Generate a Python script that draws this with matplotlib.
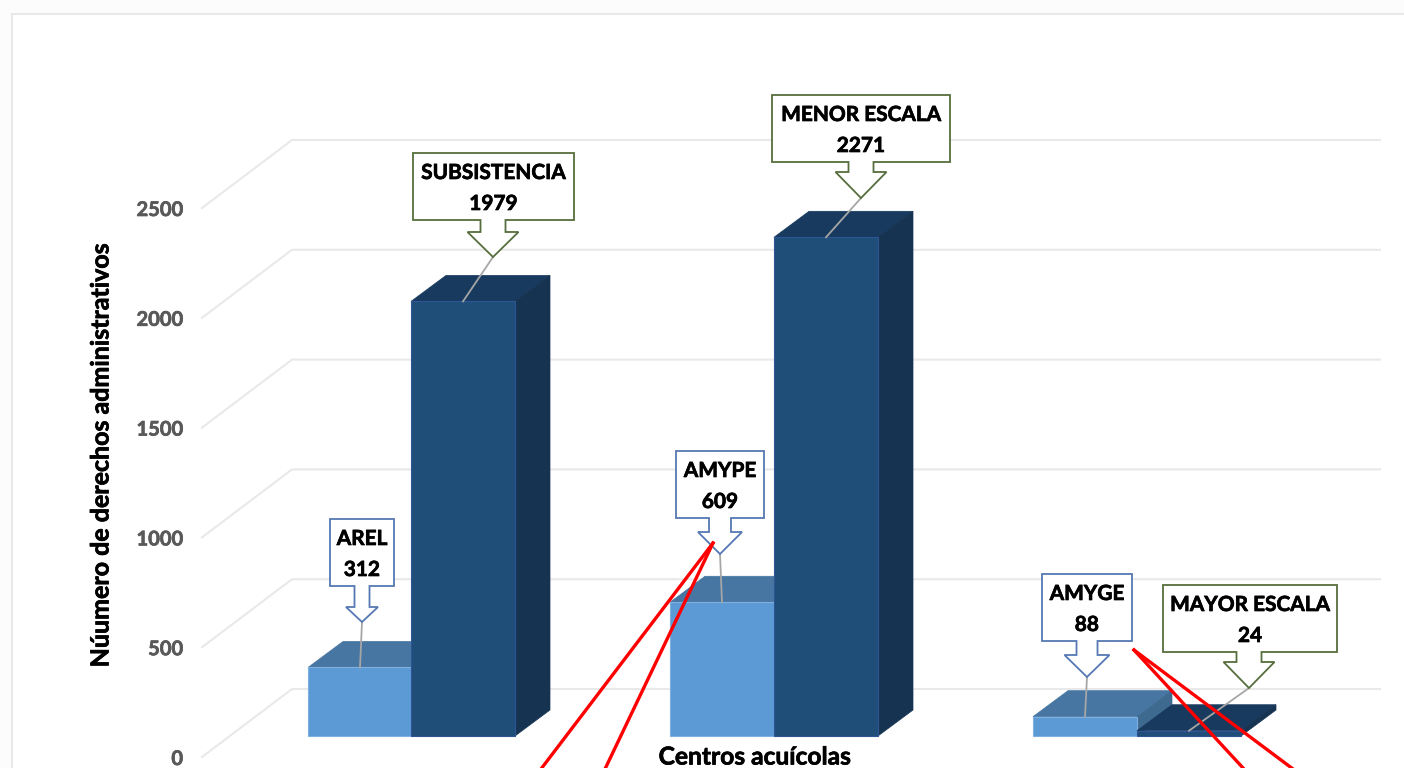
import matplotlib
matplotlib.use('Agg')
from matplotlib import pyplot as plt
from matplotlib import patheffects as pe
from matplotlib.patches import Polygon, Rectangle
from matplotlib.transforms import Affine2D

# valores
etiquetas_cortas = ['AREL', 'AMYPE', 'AMYGE']
valores_claros = [312, 609, 88]
etiquetas_largas = ['SUBSISTENCIA', 'MENOR ESCALA', 'MAYOR ESCALA']
valores_oscuros = [1979, 2271, 24]
ticks_y = [0, 500, 1000, 1500, 2000, 2500]
titulo_x = 'Centros acuícolas'
titulo_y = 'Núumero de derechos administrativos'

# geometria en pixeles de la imagen
ANCHO, ALTO = 1404, 768
PX_POR_UNIDAD = 0.2196
Y_CERO = 757
Y_BASE = 736
FONDO_X, FONDO_Y = 35, 26
PARED_X, PARED_Y = 90, 68
X_CLAROS = [308, 670, 1033]
X_OSCUROS = [411, 774, 1137]
ANCHO_BARRA = 104

AZUL_BORDE = '#5578b4'
VERDE_BORDE = '#566e3d'
# el texto del original es mas grueso que Lato Bold
GRUESO = [pe.withStroke(linewidth=0.5, foreground='black')]


def a_valor(py):
    return (Y_CERO - py) / PX_POR_UNIDAD


def a_pixel(valor):
    return Y_CERO - valor * PX_POR_UNIDAD


fig = plt.figure(figsize=(ANCHO / 100, ALTO / 100), dpi=100, facecolor='#fcfcfc')
ax = fig.add_axes([0, 0, 1, 1])
ax.set_xlim(0, ANCHO)
ax.set_ylim(a_valor(ALTO), a_valor(0))
ax.patch.set_alpha(0)
for s in ax.spines.values():
    s.set_visible(False)
# transformacion para las llamadas: pixeles con y hacia abajo
tr_px = Affine2D().scale(1, -1).translate(0, ALTO)

ax.add_patch(Rectangle((12, 14), ANCHO, ALTO, transform=tr_px, fc='white',
                       ec='#e8e8e8', lw=1.5, zorder=0))

ax.set_xticks([])
ax.set_yticks(ticks_y)
ax.tick_params(axis='y', length=0, pad=-183 * 0.72, labelsize=14.5,
               labelcolor='#595959')
for t in ax.get_yticklabels():
    t.set_fontfamily('Lato')
    t.set_fontweight('bold')
    t.set_y(t.get_position()[1])
    t.set_path_effects([pe.withStroke(linewidth=0.5, foreground='#595959')])

# rejilla de la pared y del piso
for v in ticks_y:
    ax.plot([202, 202 + PARED_X, 1380],
            [v, v + PARED_Y / PX_POR_UNIDAD, v + PARED_Y / PX_POR_UNIDAD],
            color='#e9e9e9', lw=1.5, zorder=1)


def barra(x, valor, c_frente, c_arriba, c_lado, c_borde, z):
    base = a_valor(Y_BASE)
    dy = FONDO_Y / PX_POR_UNIDAD
    ax.bar(x, valor, width=ANCHO_BARRA, bottom=base, align='edge', color=c_frente,
           edgecolor=c_borde, lw=0.8, zorder=z + 0.2)
    tope = base + valor
    der = x + ANCHO_BARRA
    ax.add_patch(Polygon([(x, tope), (der, tope), (der + FONDO_X, tope + dy),
                          (x + FONDO_X, tope + dy)], fc=c_arriba, ec=c_arriba,
                         lw=0.5, zorder=z))
    ax.add_patch(Polygon([(der, base), (der, tope), (der + FONDO_X, tope + dy),
                          (der + FONDO_X, base + dy)], fc=c_lado, ec=c_lado,
                         lw=0.5, zorder=z))


for i in range(3):
    barra(X_CLAROS[i], valores_claros[i], '#5b9ad5', '#4676a1', '#3f6a90',
          '#7fb0e0', 2 + i)
    barra(X_OSCUROS[i], valores_oscuros[i], '#1f4e79', '#173a5e', '#163352',
          '#2f5597', 2.5 + i)


def llamada(nombre, valor, caja, flecha, punta, x_barra, color):
    # caja = izq, der, arriba, abajo; flecha = ancho asta, ancho alas, y alas
    izq, der, arr, aba = caja
    asta, alas, y_alas = flecha
    px, py = punta
    pts = [(izq, arr), (der, arr), (der, aba), (px + asta / 2, aba),
           (px + asta / 2, y_alas), (px + alas / 2, y_alas), (px, py),
           (px - alas / 2, y_alas), (px - asta / 2, y_alas), (px - asta / 2, aba),
           (izq, aba)]
    ax.add_patch(Polygon(pts, transform=tr_px, fc='white', ec=color, lw=1.3, zorder=8))
    # linea guia hasta el centro de la barra
    y_tope = Y_BASE - valor * PX_POR_UNIDAD
    ax.plot([px, x_barra + ANCHO_BARRA / 2], [py, y_tope], transform=tr_px,
            color='#a6a6a6', lw=1.3, zorder=7)
    cx = (izq + der) / 2
    for texto, dy in [(nombre, 20), (str(valor), 51)]:
        ax.text(cx, arr + dy, texto, transform=tr_px, ha='center', va='center',
                family='Lato', weight='bold', fontsize=15, color='black', zorder=9,
                path_effects=GRUESO)


llamada(etiquetas_cortas[0], valores_claros[0], (330, 394, 519, 586), (15, 32, 607),
        (362, 622), X_CLAROS[0], AZUL_BORDE)
llamada(etiquetas_cortas[1], valores_claros[1], (676, 764, 451, 518), (22, 44, 532),
        (720, 554), X_CLAROS[1], AZUL_BORDE)
llamada(etiquetas_cortas[2], valores_claros[2], (1042, 1132, 574, 641), (21, 45, 655),
        (1087, 677), X_CLAROS[2], AZUL_BORDE)
llamada(etiquetas_largas[0], valores_oscuros[0], (413, 574, 153, 220), (25, 51, 232),
        (493, 257), X_OSCUROS[0], VERDE_BORDE)
llamada(etiquetas_largas[1], valores_oscuros[1], (772, 950, 95, 162), (25, 51, 172),
        (861, 198), X_OSCUROS[1], VERDE_BORDE)
llamada(etiquetas_largas[2], valores_oscuros[2], (1163, 1337, 585, 652), (25, 51, 662),
        (1249, 688), X_OSCUROS[2], VERDE_BORDE)

# lineas rojas que salen del recuadro por abajo
for ini, fin in [((713, 543), (541, 769)), ((713, 543), (605, 769)),
                 ((1134, 650), (1244, 769)), ((1134, 650), (1293, 769))]:
    ax.plot([ini[0], fin[0]], [ini[1], fin[1]], transform=tr_px, color='#ff0000',
            lw=2.4, zorder=10, clip_on=True)

ax.text(755, 757, titulo_x, transform=tr_px, ha='center', va='center', family='Lato',
        weight='bold', fontsize=17.7, color='black', zorder=9, path_effects=GRUESO)
ax.text(101, 455, titulo_y, transform=tr_px, ha='center', va='center', rotation=90,
        family='Lato', weight='bold', fontsize=18, color='black', zorder=9,
        path_effects=GRUESO)

fig.savefig('out.png', dpi=100, facecolor=fig.get_facecolor())
